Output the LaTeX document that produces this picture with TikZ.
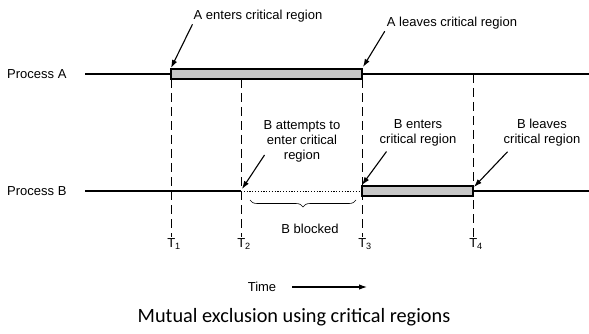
\documentclass[tikz,border=0pt]{standalone}
\usepackage{fontspec}
\setmainfont{Liberation Sans}
\newfontfamily\capfont{Carlito}
\usetikzlibrary{arrows,arrows.meta,calc,positioning,decorations.pathreplacing}

\begin{document}
\begin{tikzpicture}[x=1pt,y=-1pt,
                    every node/.style={font=\fontsize{13}{15}\selectfont,inner sep=1pt},
                    thread/.style={line width=1.1pt},
                    crit/.style={line width=1.1pt,fill=black!22},
                    tick/.style={line width=1pt,dash pattern=on 9pt off 5pt},
                    callout/.style={line width=1.1pt,-{Latex[length=8pt,width=5.5pt]}}]
    \useasboundingbox (0,0) rectangle (589,334);

    % time lines of the two processes
    \coordinate (a0) at ( 85, 74);  \coordinate (a1) at (171, 74);
    \coordinate (a3) at (362, 74);  \coordinate (aend) at (589, 74);
    \coordinate (b0) at ( 85,191);  \coordinate (b2) at (241,191);
    \coordinate (b3) at (362,191);  \coordinate (b4) at (473,191);
    \coordinate (bend) at (589,191);

    \node at (  6, 74) (procA) [anchor=west] {Process A};
    \node at (  6,191) (procB) [anchor=west] {Process B};

    \node at (174,244) (t1) {T\textsubscript{1}};
    \node at (244,244) (t2) {T\textsubscript{2}};
    \node at (365,244) (t3) {T\textsubscript{3}};
    \node at (476,244) (t4) {T\textsubscript{4}};

    \draw [tick] ($(a1)+(0,5)$) -- (t1.north -| a1);
    \draw [tick] ($(b2|-a1)+(0,5)$) -- (t2.north -| b2);
    \draw [tick] ($(a3)+(0,5)$) -- (t3.north -| a3);
    \draw [tick] (b4|-a1) -- (t4.north -| b4);

    \draw [thread] (a0) -- (a1);
    \draw [crit]   ($(a1)+(0,-5)$) rectangle ($(a3)+(0,5)$);
    \draw [thread] (a3) -- (aend);

    \draw [thread] (b0) -- (b2);
    \draw [thread, line width=0.9pt, dash pattern=on 1.2pt off 1.6pt] (b2) -- (b3);
    \draw [crit]   ($(b3)+(0,-5)$) rectangle ($(b4)+(0,5)$);
    \draw [thread] (b4) -- (bend);

    % labels and their arrows
    \node at (258, 16) (aenter) {A enters critical region};
    \node at (452, 23) (aleave) {A leaves critical region};
    \node at (302,141) (btry)   [align=center] {B attempts to\\enter critical\\region};
    \node at (418,133) (benter) [align=center] {B enters\\critical region};
    \node at (542,133) (bleave) [align=center] {B leaves\\critical region};

    \draw [callout] ($(aenter.south west)+(0,1)$)  -- ($(a1)+(0,-6)$);
    \draw [callout] ($(aleave.south west)+(-1,1)$) -- ($(a3)+(1,-7)$);
    \draw [callout] ($(btry.west)+(2,14)$)         -- ($(b2)+(1,-2)$);
    \draw [callout] ($(benter.south west)+(8,4)$)  -- ($(b3)+(0,-6)$);
    \draw [callout] ($(bleave.south west)+(5,4)$)  -- ($(b4)+(1,-4)$);

    \draw [line width=0.6pt, decorate, decoration={brace, amplitude=7pt, mirror}]
        (250,200) -- (356,200);
    \node at (310,229) (bblock) {B blocked};

    \node at (262,287) (time) {Time};
    \coordinate (tend) at (367,287);
    \draw [callout] ([xshift=15pt]time.east) -- (tend);

    \node at (294,317) (cap) [font=\capfont\fontsize{20.3}{22}\selectfont]
        {Mutual exclusion using critical regions};
\end{tikzpicture}
\end{document}
